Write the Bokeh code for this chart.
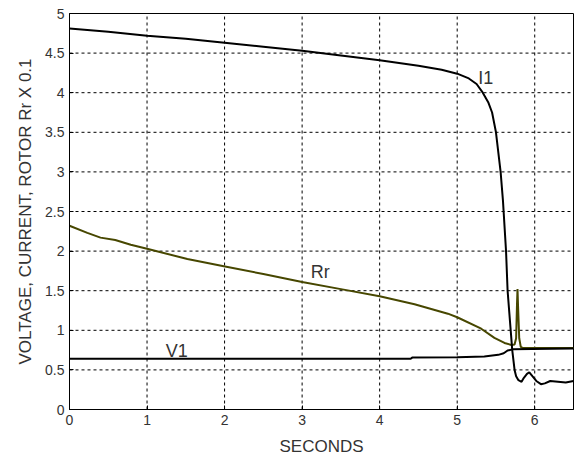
from bokeh.plotting import figure
from bokeh.models import FixedTicker, Range1d
from bokeh.core.properties import value
from bokeh.embed import file_html
from bokeh.resources import INLINE

# ---- data ----
i1_t = [0, 0.5, 1.0, 1.5, 2.0, 2.5, 3.0, 3.5, 4.0, 4.5, 4.8, 5.0, 5.15, 5.25, 5.33, 5.4,
        5.45, 5.5, 5.56, 5.59, 5.63, 5.65, 5.69, 5.71, 5.74, 5.76, 5.79, 5.83, 5.86, 5.9,
        5.93, 5.97, 6.02, 6.08, 6.13, 6.2, 6.3, 6.4, 6.5]
i1_v = [4.81, 4.77, 4.72, 4.68, 4.63, 4.58, 4.53, 4.47, 4.41, 4.34, 4.29, 4.24, 4.18, 4.11,
        4.0, 3.88, 3.75, 3.5, 3.0, 2.64, 2.0, 1.5, 1.0, 0.75, 0.5, 0.42, 0.37, 0.35, 0.40,
        0.45, 0.47, 0.42, 0.36, 0.32, 0.33, 0.36, 0.35, 0.34, 0.36]

v1_t = [0, 4.4, 4.42, 5.0, 5.35, 5.53, 5.6, 5.65, 5.72, 5.96, 6.5]
v1_v = [0.64, 0.64, 0.655, 0.66, 0.67, 0.69, 0.71, 0.745, 0.76, 0.765, 0.77]

rr_t = [0, 0.23, 0.4, 0.59, 0.79, 1.0, 1.52, 1.99, 2.5, 3.0, 3.5, 4.0, 4.45, 4.88, 5.0,
        5.31, 5.48, 5.61, 5.7, 5.74, 5.76, 5.772, 5.778, 5.785, 5.80, 5.82, 5.85, 6.0, 6.5]
rr_v = [2.32, 2.23, 2.17, 2.14, 2.08, 2.03, 1.90, 1.81, 1.71, 1.61, 1.52, 1.43, 1.33, 1.21,
        1.165, 1.02, 0.905, 0.84, 0.815, 0.82, 0.9, 1.35, 1.52, 1.3, 0.9, 0.79, 0.775,
        0.775, 0.775]

x_ticks = [0, 1, 2, 3, 4, 5, 6]
x_tick_labels = ["0", "1", "2", "3", "4", "5", "6"]
y_ticks = [0, 0.5, 1, 1.5, 2, 2.5, 3, 3.5, 4, 4.5, 5]
y_tick_labels = ["0", "0.5", "1", "1.5", "2", "2.5", "3", "3.5", "4", "4.5", "5"]
x_limits = [0, 6.5]
y_limits = [0, 5]

labels_text = ["I1", "Rr", "V1"]
labels_x = [5.27, 3.11, 1.24]
labels_y = [4.19, 1.73, 0.74]

FONT = "Liberation Sans"
TXT = "#333333"

p = figure(width=577, height=460, output_backend="svg", toolbar_location=None,
           x_range=Range1d(*x_limits), y_range=Range1d(*y_limits))
p.min_border_left = 69
p.min_border_right = 4
p.min_border_top = 13
p.min_border_bottom = 51
p.outline_line_color = "black"

p.xaxis.ticker = FixedTicker(ticks=x_ticks)
p.yaxis.ticker = FixedTicker(ticks=y_ticks)
p.xaxis.major_label_overrides = {t: l for t, l in zip(x_ticks, x_tick_labels)}
p.yaxis.major_label_overrides = {t: l for t, l in zip(y_ticks, y_tick_labels)}
for ax in (p.xaxis, p.yaxis):
    ax.major_tick_in = 4
    ax.major_tick_out = 0
    ax.minor_tick_line_color = None
    ax.major_label_text_font = FONT
    ax.major_label_text_font_size = "14px"
    ax.major_label_text_color = TXT
    ax.axis_label_text_font = FONT
    ax.axis_label_text_font_size = "17px"
    ax.axis_label_text_font_style = "normal"
    ax.axis_label_text_color = TXT

p.xaxis.axis_label = "SECONDS"
p.yaxis.axis_label = "VOLTAGE, CURRENT, ROTOR Rr X 0.1"
p.xaxis.major_label_standoff = 5
p.yaxis.major_label_standoff = 5
p.xaxis.axis_label_standoff = 9
p.yaxis.axis_label_standoff = 7

# dotted grid drawn as segments at the tick positions
p.grid.grid_line_color = None
p.segment(x0=x_ticks[1:], y0=[y_limits[0]] * (len(x_ticks) - 1),
          x1=x_ticks[1:], y1=[y_limits[1]] * (len(x_ticks) - 1),
          line_color="black", line_width=1, line_dash="3 3")
p.segment(x0=[x_limits[0]] * (len(y_ticks) - 2), y0=y_ticks[1:-1],
          x1=[x_limits[1]] * (len(y_ticks) - 2), y1=y_ticks[1:-1],
          line_color="black", line_width=1, line_dash="3 3")

p.line(rr_t, rr_v, line_color="#474700", line_width=2)
p.line(v1_t, v1_v, line_color="black", line_width=2)
p.line(i1_t, i1_v, line_color="black", line_width=2)

p.text(x=labels_x, y=labels_y, text=labels_text, text_font=value(FONT),
       text_font_size="18px", text_color=TXT, text_align="left",
       text_baseline="alphabetic")

open("out.html", "w").write(file_html(p, INLINE))
